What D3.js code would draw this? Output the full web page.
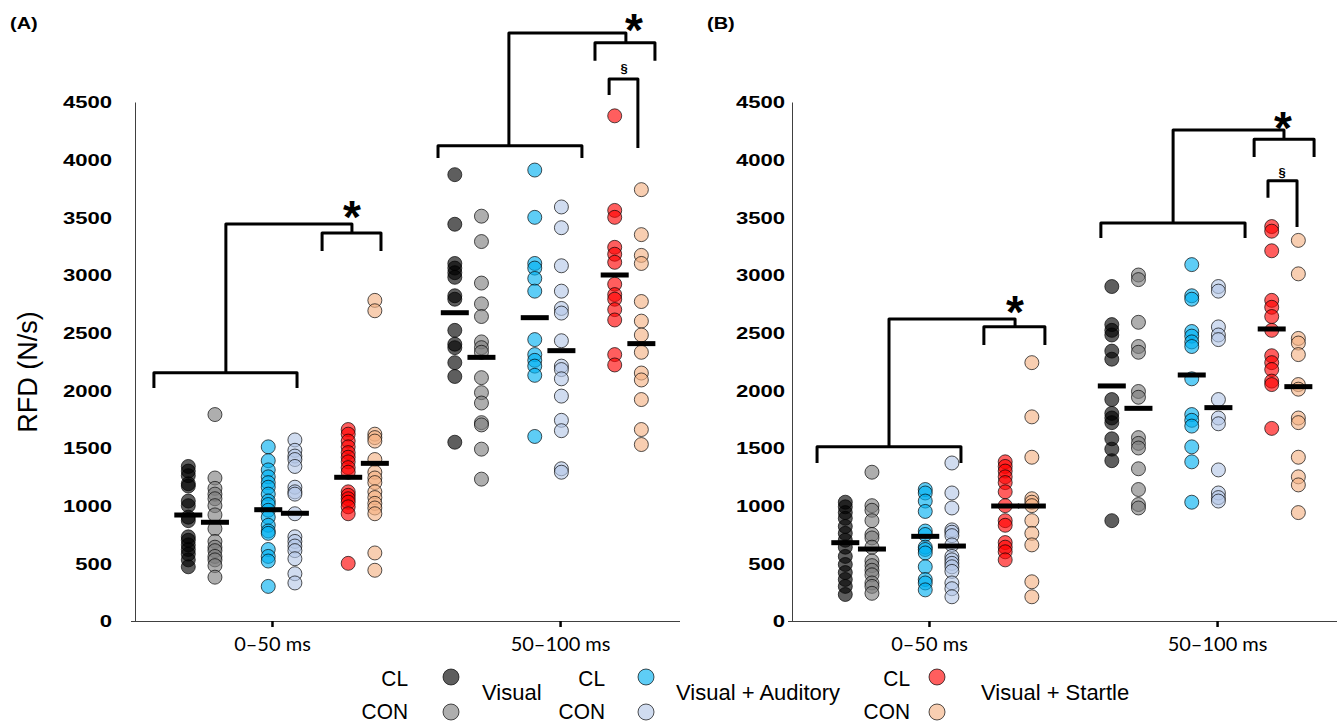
<!DOCTYPE html>
<html><head><meta charset="utf-8">
<script src="https://cdn.jsdelivr.net/npm/d3@7"></script>
<style>body{margin:0;background:#fff}svg{display:block}</style>
</head><body>
<svg id="chart" width="1340" height="725"></svg>
<script>
// ---------- data ----------
const yTickValues = [0,500,1000,1500,2000,2500,3000,3500,4000,4500];
const groupLabels = ["0–50 ms","50–100 ms"];
const conditionNames = ["Visual","Visual + Auditory","Visual + Startle"];
const subgroupNames = ["CL","CON"];
const panelLabels = ["(A)","(B)"];

// Panel A, 0–50 ms
const A1_VisCL  = [1340,1300,1260,1190,1170,1040,1000,900,870,730,700,660,620,580,530,470];
const A1_VisCON = [1790,1240,1150,1100,1060,1000,920,800,690,640,610,560,530,480,380];
const A1_VaCL   = [1510,1390,1310,1250,1200,1160,1100,1040,1010,960,900,830,780,760,620,560,520,300];
const A1_VaCON  = [1570,1480,1430,1400,1340,1160,1120,1100,930,730,690,650,610,540,410,330];
const A1_VsCL   = [1660,1620,1560,1510,1460,1420,1380,1330,1290,1120,1090,1060,1030,990,930,500];
const A1_VsCON  = [2780,2690,1620,1590,1560,1400,1290,1240,1200,1120,1070,1020,980,930,590,440];
// Panel A, 50–100 ms
const A2_VisCL  = [3870,3440,3100,3060,3020,2980,2820,2790,2520,2400,2370,2240,2120,1550];
const A2_VisCON = [3510,3290,2930,2750,2640,2420,2370,2330,2110,1980,1890,1720,1700,1490,1230];
const A2_VaCL   = [3910,3500,3100,3060,2970,2860,2440,2310,2260,2210,2130,1600];
const A2_VaCON  = [3590,3410,3080,2860,2710,2670,2430,2210,2180,2100,1950,1740,1650,1320,1290];
const A2_VsCL   = [4380,3560,3500,3240,3180,3110,2920,2830,2790,2700,2610,2310,2220];
const A2_VsCON  = [3740,3350,3170,3100,2770,2600,2480,2330,2150,2090,1920,1660,1530];
// Panel B, 0–50 ms
const B1_VisCL  = [1030,990,940,890,820,760,700,640,560,490,420,360,300,230];
const B1_VisCON = [1290,1000,960,870,750,720,640,520,480,440,400,330,300,240];
const B1_VaCL   = [1140,1110,1040,950,780,750,640,620,590,470,360,330,270];
const B1_VaCON  = [1370,1110,980,790,770,740,660,560,530,500,470,430,330,280,210];
const B1_VsCL   = [1380,1340,1300,1250,1200,1120,1000,870,830,680,640,600,530];
const B1_VsCON  = [2240,1770,1420,1060,1030,1000,870,760,660,340,210];
// Panel B, 50–100 ms
const B2_VisCL  = [2900,2570,2520,2480,2340,2270,1920,1800,1760,1720,1580,1490,1390,870];
const B2_VisCON = [3000,2960,2590,2380,2330,1990,1940,1590,1540,1500,1320,1140,1010,980];
const B2_VaCL   = [3090,2820,2790,2510,2470,2420,2380,2100,1790,1740,1690,1510,1380,1030];
const B2_VaCON  = [2900,2860,2550,2480,2440,1920,1760,1710,1310,1110,1070,1040];
const B2_VsCL   = [3420,3380,3210,2780,2720,2640,2520,2300,2240,2180,2080,2050,1670];
const B2_VsCON  = [3300,3010,2450,2410,2310,2050,2010,1760,1720,1420,1250,1180,940];

// group means (horizontal bars), order: VisCL, VisCON, VaCL, VaCON, VsCL, VsCON
const meansA1 = [919,856,965,934,1246,1367];
const meansA2 = [2673,2286,2630,2344,3000,2405];
const meansB1 = [679,624,734,650,997,997];
const meansB2 = [2038,1844,2133,1850,2532,2032];

// significance brackets (x in column units, y in N/s)
const bracketsA = [
  {x1:0.71,x2:6.08,y:2153,yLeg:2020,stem:3.41,top:3442,end:8.14,sx1:7.02,sx2:9.23,sy:3364,syLeg:3208,star:[8.14,3581]},
  {x1:11.37,x2:16.77,y:4121,yLeg:4015,stem:14.03,top:5098,end:18.42,sx1:17.26,sx2:19.51,sy:5014,syLeg:4858,star:[18.72,5202]}
];
const sectionA = [{x1:17.79,x2:18.87,y:4700,yL1:4561,yL2:4101,sym:[18.35,4795]}];
const bracketsB = [
  {x1:0.94,x2:6.34,y:1511,yLeg:1370,stem:3.64,top:2619,end:8.37,sx1:7.2,sx2:9.49,sy:2552,syLeg:2393,star:[8.37,2757]},
  {x1:11.59,x2:17.0,y:3451,yLeg:3321,stem:14.3,top:4257,end:18.46,sx1:17.34,sx2:19.59,sy:4177,syLeg:4023,star:[18.42,4353]}
];
const sectionB = [{x1:17.86,x2:18.95,y:3818,yL1:3670,yL2:3416,sym:[18.39,3893]}];

// ---------- layout / style ----------
const colUnits = [[2,3,5,6,8,9],[12,13,15,16,18,19]];
const tickUnits = [5.14,15.95];
const fills = ["#000000","#7f7f7f","#00b0f0","#b4c7e7","#ff0000","#f4b183"];
const fillOpacity = 0.63;
const R = 7;

const panels = [
  {label:panelLabels[0], x0:135, labX:10, tickGap:23, series:[[A1_VisCL,A1_VisCON,A1_VaCL,A1_VaCON,A1_VsCL,A1_VsCON],[A2_VisCL,A2_VisCON,A2_VaCL,A2_VaCON,A2_VsCL,A2_VsCON]], means:[meansA1,meansA2], brackets:bracketsA, sections:sectionA},
  {label:panelLabels[1], x0:792, labX:707, tickGap:7, series:[[B1_VisCL,B1_VisCON,B1_VaCL,B1_VaCON,B1_VsCL,B1_VsCON],[B2_VisCL,B2_VisCON,B2_VaCL,B2_VaCON,B2_VsCL,B2_VsCON]], means:[meansB1,meansB2], brackets:bracketsB, sections:sectionB}
];

const svg = d3.select("#chart");
const y = d3.scaleLinear().domain([0,4500]).range([621,102]);

panels.forEach((p,pi) => {
  const x = d3.scaleLinear().domain([0,20.45]).range([p.x0, p.x0+545]);
  const g = svg.append("g");

  // panel label
  g.append("g").attr("transform",`translate(${p.labX},29) scale(1.25,1)`)
    .append("text").attr("font-family","Liberation Sans, Arial, sans-serif")
    .attr("font-weight","bold").attr("font-size",16).text(p.label);

  // y axis
  const yAxis = d3.axisLeft(y).tickValues(yTickValues).tickSize(0).tickFormat(d3.format("d"));
  const ya = g.append("g").attr("transform",`translate(${p.x0},0)`).call(yAxis);
  ya.select(".domain").attr("stroke","#404040").attr("stroke-width",1);
  ya.selectAll(".tick text").remove();
  ya.selectAll(".tick").each(function(d){
    d3.select(this).append("g").attr("transform",`translate(${-p.tickGap},0) scale(1.38,1)`)
      .append("text").attr("text-anchor","end").attr("dy","0.36em")
      .attr("font-family","Liberation Sans, Arial, sans-serif").attr("font-weight","bold")
      .attr("font-size",16).attr("fill","#000").text(d);
  });

  // x axis
  const xAxis = d3.axisBottom(x).tickValues(tickUnits).tickSize(6).tickFormat((d,i)=>groupLabels[i]);
  const xa = g.append("g").attr("transform","translate(0,621)").call(xAxis);
  xa.select(".domain").attr("d",`M${p.x0-4},0.5H${p.x0+545}`).attr("stroke","#404040");
  xa.selectAll(".tick line").attr("stroke","#000").attr("stroke-width",2.5);
  xa.selectAll(".tick text").attr("font-family","Lato, 'Open Sans', sans-serif")
    .attr("font-size",20).attr("fill","#000").attr("y",12).attr("dy","0.9em");

  // points
  p.series.forEach((grp,gi) => {
    grp.forEach((vals,si) => {
      g.append("g").selectAll("circle").data(vals).join("circle")
        .attr("cx", x(colUnits[gi][si])).attr("cy", d=>y(d)).attr("r",R)
        .attr("fill",fills[si]).attr("fill-opacity",fillOpacity)
        .attr("stroke","#000").attr("stroke-opacity",0.85).attr("stroke-width",0.8);
    });
    // mean bars
    g.append("g").selectAll("rect").data(p.means[gi]).join("rect")
      .attr("x",(d,si)=>x(colUnits[gi][si])-14).attr("y",d=>y(d)-2.5)
      .attr("width",28).attr("height",5).attr("fill","#000");
  });

  // brackets
  const bg = g.append("g").attr("fill","none").attr("stroke","#000").attr("stroke-width",3)
    .attr("stroke-linejoin","round").attr("stroke-linecap","butt");
  p.brackets.forEach(b => {
    bg.append("path").attr("d",`M${x(b.x1)},${y(b.yLeg)}V${y(b.y)}H${x(b.x2)}V${y(b.yLeg)}`);
    bg.append("path").attr("d",`M${x(b.stem)},${y(b.y)}V${y(b.top)}H${x(b.end)}V${y(b.sy)}`);
    bg.append("path").attr("d",`M${x(b.sx1)},${y(b.syLeg)}V${y(b.sy)}H${x(b.sx2)}V${y(b.syLeg)}`);
    g.append("text").attr("x",x(b.star[0])).attr("y",y(b.star[1])+25)
      .attr("text-anchor","middle").attr("font-family","Liberation Sans, Arial, sans-serif")
      .attr("font-weight","bold").attr("font-size",46).text("*");
  });
  p.sections.forEach(s => {
    bg.append("path").attr("d",`M${x(s.x1)},${y(s.yL1)}V${y(s.y)}H${x(s.x2)}V${y(s.yL2)}`);
    g.append("text").attr("x",x(s.sym[0])).attr("y",y(s.sym[1])+5)
      .attr("text-anchor","middle").attr("font-family","Liberation Sans, Arial, sans-serif")
      .attr("font-weight","bold").attr("font-size",13).text("§");
  });
});

// y-axis title
svg.append("text").attr("transform","translate(37,372) rotate(-90)")
  .attr("text-anchor","middle").attr("font-family","Liberation Sans, Arial, sans-serif")
  .attr("font-size",27).text("RFD (N/s)");

// legend
const legendX = [{lab:408,dot:451,txt:482},{lab:605,dot:646,txt:676},{lab:910,dot:937,txt:981}];
conditionNames.forEach((name,ci) => {
  const L = legendX[ci];
  const lg = svg.append("g");
  subgroupNames.forEach((sg,k) => {
    lg.append("g").attr("transform",`translate(${L.lab},${k===0?686:719}) scale(0.95,1)`)
      .append("text").attr("text-anchor","end").attr("font-family","Liberation Sans, Arial, sans-serif")
      .attr("font-size",22).text(sg);
    lg.append("circle").attr("cx",L.dot).attr("cy",k===0?677:712).attr("r",8)
      .attr("fill",fills[ci*2+k]).attr("fill-opacity",fillOpacity)
      .attr("stroke","#000").attr("stroke-opacity",0.85).attr("stroke-width",0.8);
  });
  lg.append("g").attr("transform",`translate(${L.txt},700) scale(1.0,1)`)
    .append("text").attr("font-family","Liberation Sans, Arial, sans-serif")
    .attr("font-size",22).text(name);
});
</script>
</body></html>
